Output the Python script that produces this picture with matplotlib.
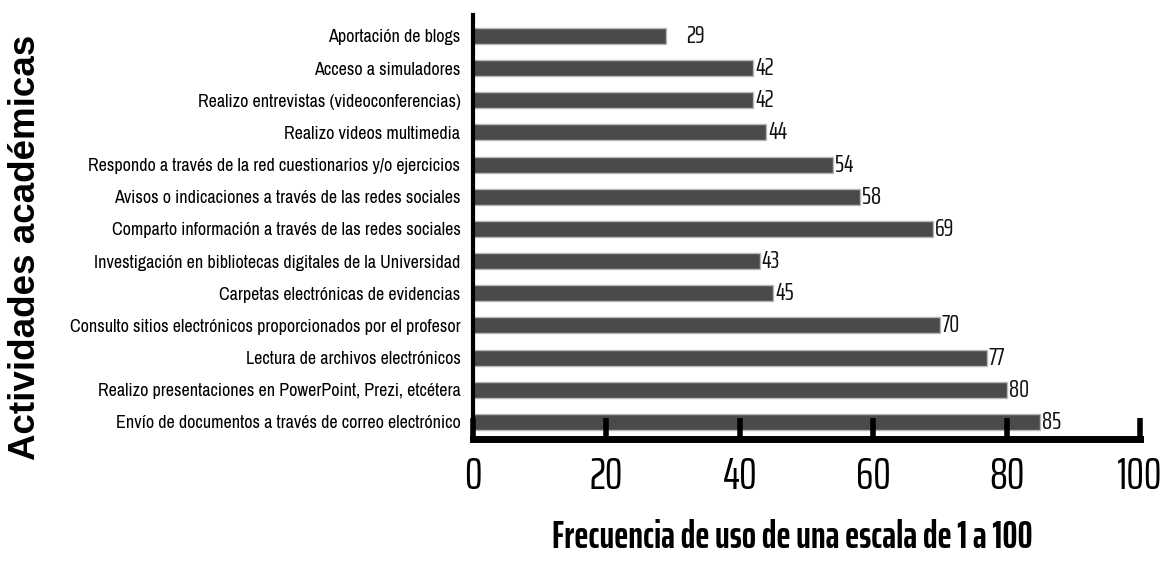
import matplotlib
matplotlib.use("Agg")
import matplotlib.pyplot as plt

LABEL_FONT = "Archivo Narrow"
NUM_FONT = "Saira ExtraCondensed"

categories = [
    "Envío de documentos a través de correo electrónico",
    "Realizo presentaciones en PowerPoint, Prezi, etcétera",
    "Lectura de archivos electrónicos",
    "Consulto sitios electrónicos proporcionados por el profesor",
    "Carpetas electrónicas de evidencias",
    "Investigación en bibliotecas digitales de la Universidad",
    "Comparto información a través de las redes sociales",
    "Avisos o indicaciones a través de las redes sociales",
    "Respondo a través de la red cuestionarios y/o ejercicios",
    "Realizo videos multimedia",
    "Realizo entrevistas (videoconferencias)",
    "Acceso a simuladores",
    "Aportación de blogs",
]
values = [85, 80, 77, 70, 45, 43, 69, 58, 54, 44, 42, 42, 29]
xticks = [0, 20, 40, 60, 80, 100]

fig = plt.figure(figsize=(11.65, 5.61), dpi=100)
ax = fig.add_axes([473/1165, 1-439/561, (1140-473)/1165, (439-15)/561])
y = list(range(len(categories)))
ax.barh(y, values, height=0.5, color="#4a4a4a", edgecolor="#b8b8b8", linewidth=1.0)
for yi, v in zip(y, values):
    off = 3 if v < 35 else 0.3
    ax.text(v + off, yi, str(v), va="center", ha="left", fontsize=18,
            family=NUM_FONT, color="#111111")
ax.set_xlim(0, 100)
ax.set_ylim(-0.53, 12.65)
ax.set_yticks(y)
ax.set_yticklabels(categories, family=LABEL_FONT, fontsize=13)
ax.tick_params(axis="y", length=0, pad=9)
ax.set_xticks(xticks)
ax.set_xticklabels([str(t) for t in xticks], family=NUM_FONT, fontsize=32)
ax.tick_params(axis="x", direction="in", length=15, width=4, pad=12)
for s in ["top", "right"]:
    ax.spines[s].set_visible(False)
ax.spines["left"].set_linewidth(3)
ax.spines["bottom"].set_linewidth(5)
ax.set_xlabel("Frecuencia de uso de una escala de 1 a 100", family=NUM_FONT,
              fontsize=27, fontweight="bold", va="center")
ax.xaxis.set_label_coords((792-473)/667, (439-538)/424)
fig.text(26/1165, 1-247/561, "Actividades académicas", rotation=90,
         ha="center", va="center", fontsize=26.5, fontweight="bold",
         family="Liberation Sans")
fig.savefig("out.png", dpi=100)
